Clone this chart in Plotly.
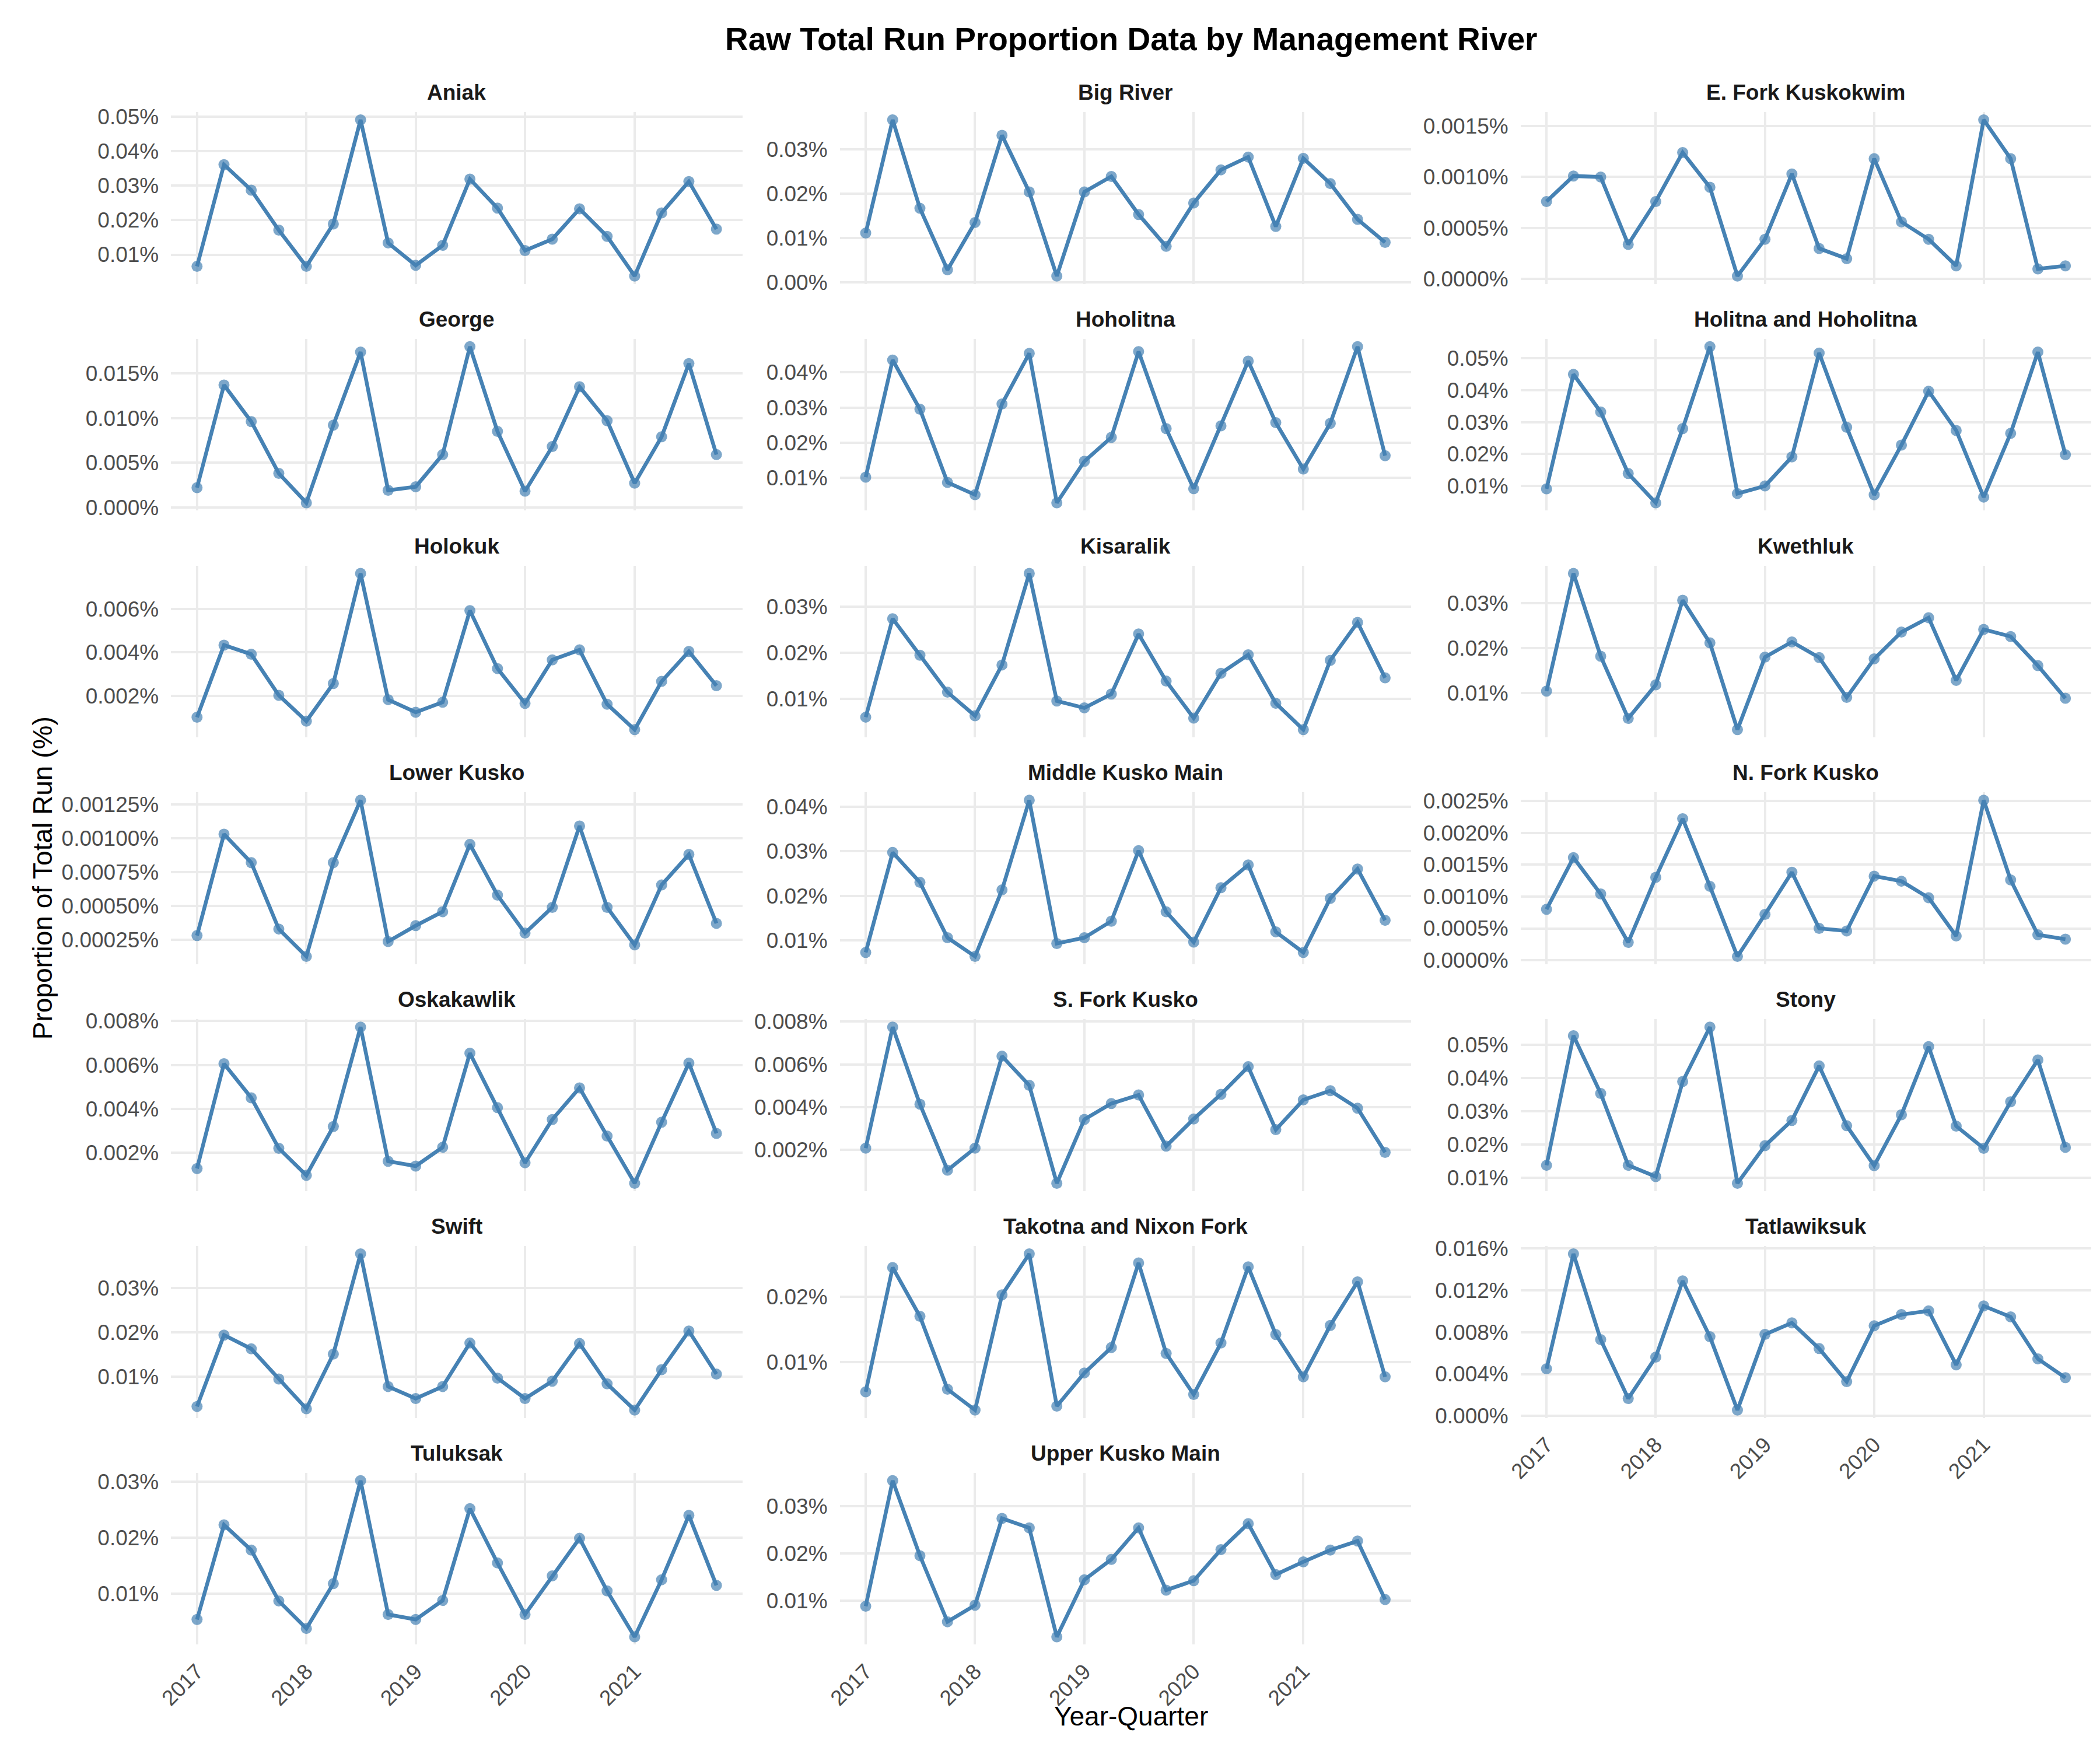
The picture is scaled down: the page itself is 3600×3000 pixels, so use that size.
import pandas as pd
import plotly.graph_objects as go

# quarter start dates, 2017 Q1 .. 2021 Q4
quarters = [
    "2017-01-01", "2017-04-01", "2017-07-01", "2017-10-01",
    "2018-01-01", "2018-04-01", "2018-07-01", "2018-10-01",
    "2019-01-01", "2019-04-01", "2019-07-01", "2019-10-01",
    "2020-01-01", "2020-04-01", "2020-07-01", "2020-10-01",
    "2021-01-01", "2021-04-01", "2021-07-01", "2021-10-01",
]
year_ticks = ["2017-01-01", "2018-01-01", "2019-01-01", "2020-01-01", "2021-01-01"]
year_labels = ["2017", "2018", "2019", "2020", "2021"]

# proportion of total run, in percent
aniak = [0.0066, 0.0361, 0.0287, 0.0171, 0.0066, 0.0189, 0.0491, 0.0134, 0.0069, 0.0127,
         0.0319, 0.0235, 0.0112, 0.0145, 0.0233, 0.0153, 0.0038, 0.0221, 0.0312, 0.0174]
big_river = [0.0111, 0.0367, 0.0167, 0.0028, 0.0135, 0.0332, 0.0204, 0.0014, 0.0204, 0.0239,
             0.0153, 0.0081, 0.0179, 0.0254, 0.0283, 0.0126, 0.0280, 0.0223, 0.0142, 0.0090]
e_fork = [0.00076, 0.00101, 0.00100, 0.00034, 0.00076, 0.00124, 0.00090, 0.00003, 0.00039, 0.00103,
          0.00030, 0.00020, 0.00118, 0.00056, 0.00039, 0.00013, 0.00156, 0.00118, 0.00010, 0.00013]
george = [0.0022, 0.0137, 0.0096, 0.0038, 0.0005, 0.0092, 0.0174, 0.0019, 0.0023, 0.0059,
          0.0180, 0.0085, 0.0018, 0.0068, 0.0135, 0.0097, 0.0027, 0.0079, 0.0161, 0.0059]
hoholitna = [0.0102, 0.0435, 0.0295, 0.0087, 0.0052, 0.0310, 0.0454, 0.0029, 0.0147, 0.0215,
             0.0459, 0.0240, 0.0069, 0.0248, 0.0432, 0.0257, 0.0125, 0.0255, 0.0473, 0.0163]
holitna_hoholitna = [0.0091, 0.0450, 0.0332, 0.0139, 0.0047, 0.0280, 0.0537, 0.0076, 0.0100, 0.0191,
                     0.0517, 0.0284, 0.0072, 0.0228, 0.0397, 0.0274, 0.0065, 0.0265, 0.0520, 0.0198]
holokuk = [0.00101, 0.00433, 0.00391, 0.00202, 0.00083, 0.00256, 0.00763, 0.00182, 0.00124, 0.00170,
           0.00592, 0.00325, 0.00165, 0.00365, 0.00411, 0.00161, 0.00044, 0.00266, 0.00404, 0.00246]
kisaralik = [0.0061, 0.0274, 0.0195, 0.0115, 0.0064, 0.0174, 0.0372, 0.0096, 0.0081, 0.0111,
             0.0241, 0.0139, 0.0059, 0.0156, 0.0196, 0.0091, 0.0034, 0.0184, 0.0266, 0.0146]
kwethluk = [0.0104, 0.0367, 0.0182, 0.0043, 0.0118, 0.0307, 0.0212, 0.0018, 0.0180, 0.0214,
            0.0179, 0.0090, 0.0176, 0.0236, 0.0268, 0.0128, 0.0242, 0.0226, 0.0161, 0.0088]
lower_kusko = [0.000282, 0.00103, 0.00082, 0.00033, 0.000128, 0.00082, 0.00128, 0.000238, 0.000355, 0.000458,
               0.000955, 0.00058, 0.00030, 0.00049, 0.00109, 0.00049, 0.000213, 0.000655, 0.00088, 0.000372]
middle_kusko = [0.0073, 0.0297, 0.0230, 0.0106, 0.0064, 0.0213, 0.0414, 0.0093, 0.0106, 0.0143,
                0.0301, 0.0164, 0.0096, 0.0218, 0.0269, 0.0119, 0.0073, 0.0194, 0.0260, 0.0145]
n_fork = [0.00080, 0.00161, 0.00104, 0.00028, 0.00130, 0.00222, 0.00116, 0.00006, 0.00072, 0.00138,
          0.00050, 0.00046, 0.00132, 0.00124, 0.00098, 0.00038, 0.00251, 0.00126, 0.00040, 0.00033]
oskakawlik = [0.00129, 0.00606, 0.00451, 0.00221, 0.00098, 0.00320, 0.00773, 0.00162, 0.00140, 0.00226,
              0.00654, 0.00406, 0.00155, 0.00352, 0.00496, 0.00277, 0.00062, 0.00340, 0.00609, 0.00289]
s_fork = [0.00209, 0.00774, 0.00414, 0.00106, 0.00209, 0.00638, 0.00502, 0.00045, 0.00343, 0.00417,
          0.00457, 0.00218, 0.00345, 0.00460, 0.00589, 0.00295, 0.00434, 0.00477, 0.00395, 0.00189]
stony = [0.0137, 0.0527, 0.0353, 0.0137, 0.0103, 0.0389, 0.0553, 0.0083, 0.0196, 0.0272,
         0.0436, 0.0256, 0.0136, 0.0289, 0.0494, 0.0255, 0.0188, 0.0328, 0.0454, 0.0191]
swift = [0.0033, 0.0194, 0.0163, 0.0095, 0.0028, 0.0151, 0.0377, 0.0078, 0.0051, 0.0078,
         0.0176, 0.0097, 0.0051, 0.0090, 0.0175, 0.0084, 0.0025, 0.0116, 0.0203, 0.0106]
takotna = [0.0054, 0.0245, 0.0170, 0.0058, 0.0026, 0.0203, 0.0266, 0.0032, 0.0083, 0.0122,
           0.0252, 0.0113, 0.0050, 0.0129, 0.0246, 0.0142, 0.0077, 0.0156, 0.0223, 0.0077]
tatlawiksuk = [0.0045, 0.01546, 0.00728, 0.00167, 0.00561, 0.01288, 0.00756, 0.00057, 0.00778, 0.00888,
               0.00643, 0.00328, 0.00860, 0.00967, 0.01002, 0.00488, 0.01049, 0.00945, 0.00545, 0.00365]
tuluksak = [0.0054, 0.0223, 0.0178, 0.0087, 0.0038, 0.0118, 0.0302, 0.0063, 0.0054, 0.0088,
            0.0252, 0.0155, 0.0063, 0.0132, 0.0199, 0.0105, 0.0023, 0.0125, 0.0240, 0.0115]
upper_kusko = [0.0088, 0.0354, 0.0195, 0.0055, 0.0090, 0.0274, 0.0254, 0.0023, 0.0144, 0.0187,
               0.0254, 0.0122, 0.0142, 0.0208, 0.0263, 0.0155, 0.0182, 0.0207, 0.0226, 0.0102]

rivers = ["Aniak", "Big River", "E. Fork Kuskokwim", "George", "Hoholitna",
          "Holitna and Hoholitna", "Holokuk", "Kisaralik", "Kwethluk", "Lower Kusko",
          "Middle Kusko Main", "N. Fork Kusko", "Oskakawlik", "S. Fork Kusko", "Stony",
          "Swift", "Takotna and Nixon Fork", "Tatlawiksuk", "Tuluksak", "Upper Kusko Main"]
series = [aniak, big_river, e_fork, george, hoholitna, holitna_hoholitna, holokuk,
          kisaralik, kwethluk, lower_kusko, middle_kusko, n_fork, oskakawlik, s_fork,
          stony, swift, takotna, tatlawiksuk, tuluksak, upper_kusko]

# y tick breaks per panel
y_ticks = [
    [0.01, 0.02, 0.03, 0.04, 0.05],
    [0.00, 0.01, 0.02, 0.03],
    [0.0, 0.0005, 0.0010, 0.0015],
    [0.0, 0.005, 0.010, 0.015],
    [0.01, 0.02, 0.03, 0.04],
    [0.01, 0.02, 0.03, 0.04, 0.05],
    [0.002, 0.004, 0.006],
    [0.01, 0.02, 0.03],
    [0.01, 0.02, 0.03],
    [0.00025, 0.00050, 0.00075, 0.00100, 0.00125],
    [0.01, 0.02, 0.03, 0.04],
    [0.0, 0.0005, 0.0010, 0.0015, 0.0020, 0.0025],
    [0.002, 0.004, 0.006, 0.008],
    [0.002, 0.004, 0.006, 0.008],
    [0.01, 0.02, 0.03, 0.04, 0.05],
    [0.01, 0.02, 0.03],
    [0.01, 0.02],
    [0.0, 0.004, 0.008, 0.012, 0.016],
    [0.01, 0.02, 0.03],
    [0.01, 0.02, 0.03],
]

W, H = 3600, 3000
FONT = "Liberation Sans, Arial, Helvetica, sans-serif"
BLUE = "#4682B4"
GRID = "#EBEBEB"
col_px = [(263, 1249), (1417, 2403), (2592, 3577)]
ROW_TOP = 169
ROW_STEP = 393.4
PANEL_H = 298


def decimals(ticks):
    for d in range(1, 8):
        if all(abs(round(t, d) - t) < 1e-12 for t in ticks):
            return d
    return 6


xd = pd.to_datetime(quarters)
pad = (xd.max() - xd.min()) * 0.05
x_range = [(xd.min() - pad).strftime("%Y-%m-%d %H:%M"), (xd.max() + pad).strftime("%Y-%m-%d %H:%M")]

fig = go.Figure()
annotations = []
n = len(rivers)

for i, (name, vals) in enumerate(zip(rivers, series)):
    r, c = divmod(i, 3)
    k = i + 1
    sfx = "" if k == 1 else str(k)
    top = ROW_TOP + r * ROW_STEP
    bottom = top + PANEL_H
    x0, x1 = col_px[c]

    fig.add_trace(go.Scatter(
        x=quarters, y=vals, mode="lines+markers",
        xaxis="x" + sfx, yaxis="y" + sfx,
        line=dict(color=BLUE, width=6.5),
        marker=dict(color="rgba(70,130,180,0.7)", size=19, line=dict(width=0)),
        showlegend=False, hoverinfo="x+y",
    ))

    lo, hi = min(vals), max(vals)
    ypad = (hi - lo) * 0.05
    ticks = y_ticks[i]
    d = decimals(ticks)
    bottom_of_col = i + 3 >= n

    fig.layout["xaxis" + sfx] = dict(
        domain=[x0 / W, x1 / W], anchor="y" + sfx, type="date",
        range=x_range, tickmode="array", tickvals=year_ticks, ticktext=year_labels,
        showticklabels=bottom_of_col, tickangle=-45,
        tickfont=dict(family=FONT, size=37, color="#4D4D4D"),
        ticks="", ticklabelstandoff=16,
        showgrid=True, gridcolor=GRID, gridwidth=3.5,
        showline=False, zeroline=False,
    )
    fig.layout["yaxis" + sfx] = dict(
        domain=[1 - bottom / H, 1 - top / H], anchor="x" + sfx,
        range=[lo - ypad, hi + ypad], tickmode="array", tickvals=ticks,
        ticktext=[f"{t:.{d}f}%" for t in ticks],
        tickfont=dict(family=FONT, size=37, color="#4D4D4D"),
        ticks="", ticklabelstandoff=20,
        showgrid=True, gridcolor=GRID, gridwidth=3.5,
        showline=False, zeroline=False,
    )
    annotations.append(dict(
        text=f"<b>{name}</b>", x=(x0 + x1) / 2 / W, y=1 - (top - 34) / H,
        xref="paper", yref="paper", xanchor="center", yanchor="middle",
        showarrow=False, font=dict(family=FONT, size=37, color="#1A1A1A"),
    ))

annotations.append(dict(
    text="<b>Raw Total Run Proportion Data by Management River</b>",
    x=1920 / W, y=1 - 43 / H, xref="paper", yref="paper",
    xanchor="center", yanchor="middle", showarrow=False,
    font=dict(family=FONT, size=55, color="black"),
))
annotations.append(dict(
    text="Year-Quarter", x=1920 / W, y=1 - 2951 / H, xref="paper", yref="paper",
    xanchor="center", yanchor="middle", showarrow=False,
    font=dict(family=FONT, size=46, color="black"),
))
annotations.append(dict(
    text="Proportion of Total Run (%)", x=41 / W, y=1 - 1498 / H,
    xref="paper", yref="paper", xanchor="center", yanchor="middle",
    textangle=-90, showarrow=False,
    font=dict(family=FONT, size=46, color="black"),
))

fig.update_layout(
    width=W, height=H,
    margin=dict(l=0, r=0, t=0, b=0),
    paper_bgcolor="white", plot_bgcolor="white",
    showlegend=False, annotations=annotations,
    font=dict(family=FONT),
)

fig.write_html("out.html")
